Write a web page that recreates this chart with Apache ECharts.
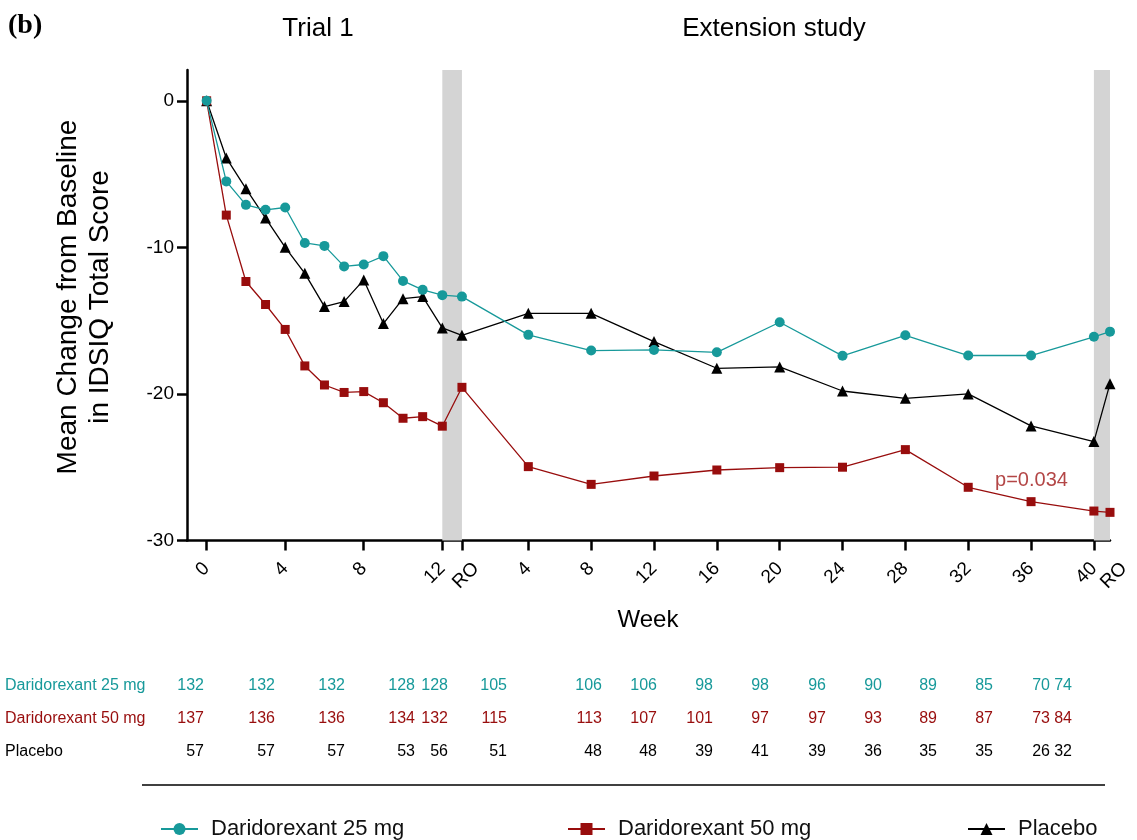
<!DOCTYPE html>
<html>
<head>
<meta charset="utf-8">
<script src="https://cdn.jsdelivr.net/npm/echarts@6/dist/echarts.min.js"></script>
<style>
html,body{margin:0;padding:0;background:#fff;}
#chart{width:1137px;height:840px;}
</style>
</head>
<body>
<div id="chart"></div>
<script>
// ---- data ----
// x coordinate on a shared time axis: Trial 1 weeks 0-12, run-out (RO), then extension weeks 4-40 and RO
const xPos = [0,1,2,3,4,5,6,7,8,9,10,11,12,13,16.38,19.58,22.78,25.98,29.18,32.38,35.58,38.78,41.98,45.18,46];
const dari25 = [0,-5.5,-7.1,-7.44,-7.28,-9.7,-9.9,-11.3,-11.17,-10.6,-12.29,-12.9,-13.26,-13.36,-15.97,-17.04,-17.0,-17.16,-15.11,-17.4,-16.0,-17.38,-17.38,-16.1,-15.75];
const dari50 = [0,-7.8,-12.33,-13.9,-15.6,-18.09,-19.39,-19.9,-19.84,-20.6,-21.66,-21.55,-22.2,-19.55,-24.96,-26.17,-25.6,-25.19,-25.03,-25.0,-23.8,-26.37,-27.35,-27.99,-28.08];
const placebo = [0,-3.9,-6.0,-8.0,-10.0,-11.77,-14.04,-13.7,-12.22,-15.2,-13.5,-13.36,-15.5,-16.0,-14.5,-14.5,-16.43,-18.25,-18.16,-19.8,-20.3,-20.0,-22.18,-23.25,-19.3];

const tickValues = [0,4,8,12,13,16.38,19.58,22.78,25.98,29.18,32.38,35.58,38.78,41.98,45.18,46];
const tickLabels = ['0','4','8','12','RO','4','8','12','16','20','24','28','32','36','40','RO'];
const yTicks = [0,-10,-20,-30];

const seriesNames = ['Daridorexant 25 mg','Daridorexant 50 mg','Placebo'];
const n25 = [132,132,132,128,128,105,106,106,98,98,96,90,89,85,70,74];
const n50 = [137,136,136,134,132,115,113,107,101,97,97,93,89,87,73,84];
const nPbo = [57,57,57,53,56,51,48,48,39,41,39,36,35,35,26,32];

const pLabel = 'p=0.034';
const pLabelAt = [42.0, -25.9];

// ---- layout / style ----
const TEAL = '#17999a', RED = '#980d0d', BLACK = '#000';
const FONT = '"Liberation Sans", Arial, sans-serif';
const tableColRight = [204,275,345,415,448,507,602,657,713,769,826,882,937,993,1050,1072];
const tableRowY = [686,719,752];
const LABEL_MARGIN = 25;
const RO_SHIFT = 14;

function pairs(ys){ return ys.map((y,i)=>[xPos[i], y]); }
const isRO = i => tickLabels[i] === 'RO';
const numTickValues = tickValues.filter((v,i)=>!isRO(i));

const chart = echarts.init(document.getElementById('chart'), null, {renderer:'canvas'});

const graphics = [
  {type:'text', left:8, top:12, style:{text:'(b)', font:'bold 28px "Liberation Serif", "Times New Roman", serif', fill:'#000'}},
  {type:'text', x:318, y:29, style:{text:'Trial 1', font:'26px '+FONT, fill:'#000', textAlign:'center', textVerticalAlign:'middle'}},
  {type:'text', x:774, y:29, style:{text:'Extension study', font:'26px '+FONT, fill:'#000', textAlign:'center', textVerticalAlign:'middle'}},
  {type:'text', x:84, y:297, rotation:Math.PI/2, style:{text:'Mean Change from Baseline\nin IDSIQ Total Score', font:'28px '+FONT, lineHeight:32, fill:'#000', textAlign:'center', textVerticalAlign:'middle'}},
  {type:'text', x:648, y:620, style:{text:'Week', font:'24px '+FONT, fill:'#000', textAlign:'center', textVerticalAlign:'middle'}},
  {type:'line', shape:{x1:142, y1:785, x2:1105, y2:785}, style:{stroke:'#000', lineWidth:1.5}}
];
const rows = [[seriesNames[0], n25, TEAL],[seriesNames[1], n50, RED],[seriesNames[2], nPbo, '#000']];
rows.forEach((r,ri)=>{
  graphics.push({type:'text', x:5, y:tableRowY[ri], style:{text:r[0], font:'16px '+FONT, fill:r[2], textAlign:'left', textVerticalAlign:'middle'}});
  r[1].forEach((v,ci)=>{
    graphics.push({type:'text', x:tableColRight[ci], y:tableRowY[ri], style:{text:String(v), font:'16px '+FONT, fill:r[2], textAlign:'right', textVerticalAlign:'middle'}});
  });
});

function legendAt(name, left){
  return {data:[name], left:left, top:813, itemWidth:37, itemHeight:15, orient:'horizontal',
    textStyle:{fontSize:22, fontFamily:FONT, color:'#111', padding:[0,0,0,8]}};
}

const option = {
  animation:false,
  backgroundColor:'#fff',
  grid:{left:187, top:70, width:923, height:470.5, containLabel:false},
  xAxis:{
    type:'value', min:-1, max:46,
    axisLine:{show:true, onZero:false, lineStyle:{color:'#000', width:2.5}},
    axisTick:{show:true, length:10, lineStyle:{color:'#000', width:2.5}, customValues: tickValues.slice(0, tickValues.length-1)},
    axisLabel:{show:true, rotate:45, margin:LABEL_MARGIN, fontSize:19, fontFamily:FONT, color:'#000',
      hideOverlap:false,
      customValues: numTickValues,
      formatter:function(v){ for(let i=0;i<tickValues.length;i++){ if(Math.abs(tickValues[i]-v)<0.01) return tickLabels[i]; } return ''; }},
    splitLine:{show:false}
  },
  yAxis:{
    type:'value', min:-30, max:2.1,
    axisLine:{show:true, onZero:false, lineStyle:{color:'#000', width:2.5}},
    axisTick:{show:true, length:10, lineStyle:{color:'#000', width:2.5}, customValues:yTicks},
    axisLabel:{show:true, margin:13, fontSize:19, fontFamily:FONT, color:'#000', customValues:yTicks},
    splitLine:{show:false}
  },
  legend:[legendAt(seriesNames[0],155), legendAt(seriesNames[1],562), legendAt(seriesNames[2],962)],
  graphic:graphics,
  series:[
    {name:seriesNames[2], type:'line', data:pairs(placebo), symbol:'triangle', symbolSize:11,
      itemStyle:{color:BLACK}, lineStyle:{color:BLACK, width:1.3}, z:3,
      markArea:{silent:true, itemStyle:{color:'#d4d4d4'},
        data:[[{xAxis:xPos[12], yAxis:2.1},{xAxis:xPos[13], yAxis:-30}],[{xAxis:xPos[23], yAxis:2.1},{xAxis:xPos[24], yAxis:-30}]]}},
    {name:seriesNames[1], type:'line', data:pairs(dari50), symbol:'rect', symbolSize:9,
      itemStyle:{color:RED}, lineStyle:{color:RED, width:1.3}, z:4},
    {name:seriesNames[0], type:'line', data:pairs(dari25), symbol:'circle', symbolSize:10,
      itemStyle:{color:TEAL}, lineStyle:{color:TEAL, width:1.3}, z:5},
    {name:'pvalue', type:'scatter', data:[pLabelAt], symbolSize:1, silent:true,
      itemStyle:{color:'rgba(0,0,0,0)'}, z:6,
      label:{show:true, position:'inside', formatter:pLabel, fontSize:20, fontFamily:FONT, color:'#a01818'}}
  ]
};
chart.setOption(option);

// RO labels: placed from the axis scale, nudged right as in the original figure
const extra = [];
tickValues.forEach((v,i)=>{
  if(!isRO(i)) return;
  const p = chart.convertToPixel({gridIndex:0}, [v, -30]);
  extra.push({type:'text', x:p[0]+RO_SHIFT, y:p[1]+LABEL_MARGIN, rotation:Math.PI/4,
    style:{text:tickLabels[i], font:'19px '+FONT, fill:'#000', textAlign:'right', textVerticalAlign:'middle'}});
});
chart.setOption({graphic:graphics.concat(extra)}, {replaceMerge:['graphic']});
</script>
</body>
</html>
